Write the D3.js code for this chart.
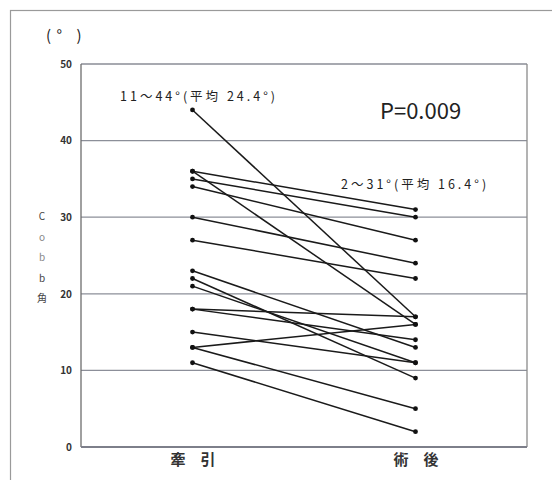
<!DOCTYPE html>
<html>
<head>
<meta charset="UTF-8">
<style>
  body { margin: 0; background: #fff; }
  text { font-family: "Noto Sans CJK JP", "DejaVu Sans", sans-serif; }
</style>
</head>
<body>
<svg width="552" height="480"></svg>
<script src="https://cdn.jsdelivr.net/npm/d3@7"></script>
<script>

// stages and Cobb angle per patient (degrees)
var stages = ["牽　引", "術　後"];
var traction = [44, 36, 36, 35, 34, 30, 27, 23, 22, 21, 18, 18, 15, 13, 13, 11];
var postop   = [17, 16, 31, 30, 27, 24, 22, 13, 9, 11, 17, 14, 11, 16, 5, 2];
var yTicks = [0, 10, 20, 30, 40, 50];
var gridTicks = [10, 20, 30, 40];
var yTitle = ["C", "o", "b", "b", "角"];

var svg = d3.select("svg"),
  margin = {top: 64, right: 25, bottom: 33, left: 81},
  width = +svg.attr("width") - margin.left - margin.right,
  height = +svg.attr("height") - margin.top - margin.bottom;

// outer frame
svg.append("rect")
  .attr("x", 10.5).attr("y", 10.5)
  .attr("width", 600).attr("height", 600)
  .attr("fill", "none")
  .attr("stroke", "#9a9a9a")
  .attr("stroke-width", 1.2);

var g = svg.append("g").attr("transform", "translate(" + margin.left + "," + margin.top + ")");

var x = d3.scalePoint()
  .domain(stages)
  .range([0, width])
  .padding(0.5);

var y = d3.scaleLinear()
  .domain([0, 50])
  .range([height, 0]);

// grid
g.selectAll(".grid")
  .data(gridTicks)
  .enter().append("line")
    .attr("x1", 0).attr("x2", width)
    .attr("y1", function(d) { return y(d); })
    .attr("y2", function(d) { return y(d); })
    .attr("stroke", "#8c8f99")
    .attr("stroke-width", 1.2);

// frame of plot
g.append("line").attr("x1", 0).attr("x2", width).attr("y1", 0).attr("y2", 0)
  .attr("stroke", "#8a8d96").attr("stroke-width", 1.3);
g.append("line").attr("x1", width).attr("x2", width).attr("y1", 0).attr("y2", height)
  .attr("stroke", "#8a8a8a").attr("stroke-width", 1.3);
g.append("line").attr("x1", 0).attr("x2", 0).attr("y1", 0).attr("y2", height)
  .attr("stroke", "#6d6d6d").attr("stroke-width", 1.3);
g.append("line").attr("x1", 0).attr("x2", width).attr("y1", height).attr("y2", height)
  .attr("stroke", "#7d7f8a").attr("stroke-width", 2);

// y axis labels
var yAxis = g.append("g")
  .call(d3.axisLeft(y).tickValues(yTicks).tickSize(0).tickPadding(9));
yAxis.select(".domain").remove();
yAxis.selectAll("text")
  .attr("font-family", "'Liberation Sans', Arial, sans-serif")
  .attr("font-size", 10)
  .attr("font-weight", "bold")
  .attr("fill", "#333");

// x axis labels
var xAxis = g.append("g")
  .attr("transform", "translate(0," + height + ")")
  .call(d3.axisBottom(x).tickSize(0).tickPadding(7));
xAxis.select(".domain").remove();
xAxis.selectAll("text")
  .attr("font-size", 15)
  .attr("font-weight", "bold")
  .attr("fill", "#333");

// y axis title, stacked
svg.selectAll(".ytitle")
  .data(yTitle)
  .enter().append("text")
    .attr("x", 42)
    .attr("y", function(d, i) { return 220 + i * 20.5; })
    .attr("text-anchor", "middle")
    .attr("font-size", 10)
    .attr("fill", function(d, i) { return (i === 1 || i === 2) ? "#888" : "#444"; })
    .attr("font-family", function(d) { return d === "角" ? "'Noto Sans CJK JP'" : "'DejaVu Serif', serif"; })
    .text(function(d) { return d; });

svg.append("text")
  .attr("x", 46).attr("y", 41)
  .attr("font-size", 15)
  .attr("letter-spacing", 5.5)
  .attr("fill", "#222")
  .text("(° )");

// lines per patient
var pairs = traction.map(function(d, i) { return [d, postop[i]]; });

g.selectAll(".pt-line")
  .data(pairs)
  .enter().append("line")
    .attr("x1", x(stages[0]))
    .attr("x2", x(stages[1]))
    .attr("y1", function(d) { return y(d[0]); })
    .attr("y2", function(d) { return y(d[1]); })
    .attr("stroke", "#1a1a1a")
    .attr("stroke-width", 1.5);

var pts = [];
pairs.forEach(function(d) {
  pts.push({s: stages[0], v: d[0]});
  pts.push({s: stages[1], v: d[1]});
});

g.selectAll(".pt")
  .data(pts)
  .enter().append("circle")
    .attr("cx", function(d) { return x(d.s); })
    .attr("cy", function(d) { return y(d.v); })
    .attr("r", 2.4)
    .attr("fill", "#111");

// annotations
svg.append("text")
  .attr("x", 120).attr("y", 101)
  .attr("font-size", 12.5)
  .attr("letter-spacing", 3)
  .attr("fill", "#222")
  .text("11～44°(平均 24.4°)");

svg.append("text")
  .attr("x", 341).attr("y", 189)
  .attr("font-size", 12.5)
  .attr("letter-spacing", 3)
  .attr("fill", "#222")
  .text("2～31°(平均 16.4°)");

svg.append("text")
  .attr("x", 380).attr("y", 119)
  .attr("font-family", "'Liberation Sans', Arial, sans-serif")
  .attr("font-size", 22)
  .attr("fill", "#222")
  .text("P=0.009");

</script>
</body>
</html>
